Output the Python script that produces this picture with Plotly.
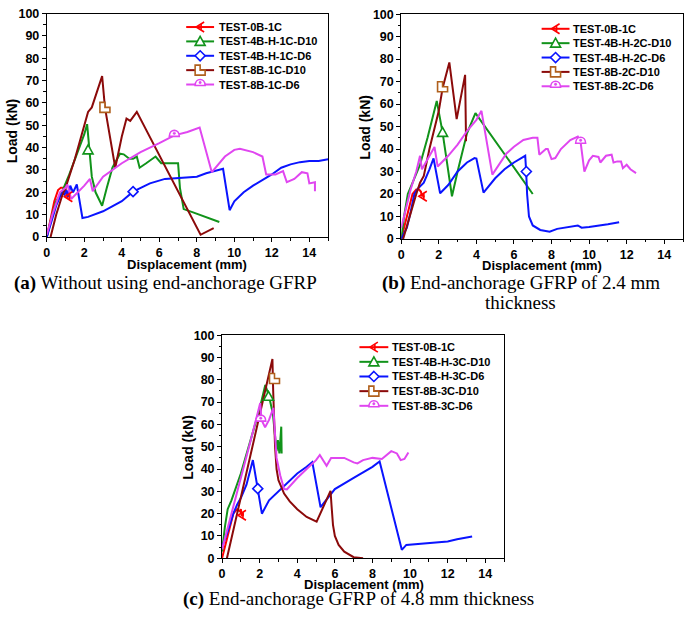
import plotly.graph_objects as go

W, H = 685, 622

# ---------------- Panel (a) data ----------------
A_NAMES = ["TEST-0B-1C", "TEST-4B-H-1C-D10", "TEST-4B-H-1C-D6", "TEST-8B-1C-D10", "TEST-8B-1C-D6"]
A_0B_X = [0, 0.2, 0.4, 0.6, 0.75, 0.9, 1.0, 1.05, 1.1, 1.15, 1.2]
A_0B_Y = [0, 8, 16, 21, 22, 22, 21.5, 20, 17.5, 19, 18]
A_4D10_X = [0, 0.2, 0.5, 0.8, 1.2, 1.6, 2.0, 2.15, 2.25, 2.4, 2.6, 2.95, 3.2, 3.5, 3.9, 4.1, 4.4, 4.6, 4.8, 4.95, 5.3, 5.8, 6.1, 6.5, 7.0, 7.1, 7.3, 7.8, 8.5, 9.2]
A_4D10_Y = [0, 7, 16, 20, 28, 37, 46, 50.5, 40, 27, 20, 14, 22, 31, 37.3, 37, 35, 35, 36, 31, 33, 36, 33, 33, 33, 22, 12.5, 11, 9, 6.7]
A_4D6_X = [0, 0.2, 0.5, 0.7, 0.85, 0.95, 1.05, 1.15, 1.25, 1.4, 1.6, 1.9, 2.2, 3.0, 4.0, 4.6, 5.5, 6.3, 7.0, 8.0, 8.5, 9.4, 9.75, 10.0, 10.5, 11.0, 12.0, 12.5, 13.0, 13.5, 14.0, 14.5, 15.0]
A_4D6_Y = [0, 6, 14, 18, 20, 19, 21, 18, 23, 20, 23.5, 8.5, 9, 11.5, 16, 20.3, 24, 26, 26.5, 27, 28.5, 30.5, 12, 16, 20, 23, 28, 31, 32.5, 33.5, 34, 34, 34.8]
A_8D10_X = [0.2, 0.5, 0.8, 1.0, 1.5, 2.0, 2.2, 2.4, 2.6, 2.95, 3.1, 3.35, 3.65, 4.0, 4.25, 4.45, 4.8, 8.2, 8.9]
A_8D10_Y = [0, 10, 18, 22, 35, 50, 56, 58, 63, 72, 58, 45, 31, 45, 53, 52, 56, 1, 4]
A_8D6_X = [0, 0.3, 0.7, 1.0, 1.1, 1.3, 2.0, 2.3, 2.45, 3.0, 4.0, 5.0, 6.0, 6.8, 7.5, 8.15, 8.8, 9.5, 10.0, 10.3, 11.0, 11.5, 11.7, 12.2, 12.6, 12.8, 13.2, 13.6, 13.9, 14.0, 14.3, 14.3]
A_8D6_Y = [1, 10, 20, 22, 23.5, 17, 23, 26, 20.5, 27, 33, 38, 42, 45.5, 47, 49, 29, 36, 39, 39.5, 38, 36, 28, 28, 29.5, 24.5, 26, 29, 28.5, 24, 24.5, 20.5]
A_MARK_X = [1.15, 2.2, 4.6, 3.1, 6.8]
A_MARK_Y = [18, 39, 20.3, 58, 45.5]

# ---------------- Panel (b) data ----------------
B_NAMES = ["TEST-0B-1C", "TEST-4B-H-2C-D10", "TEST-4B-H-2C-D6", "TEST-8B-2C-D10", "TEST-8B-2C-D6"]
B_0B_X = [0, 0.2, 0.4, 0.6, 0.8, 0.95, 1.05, 1.1, 1.15, 1.2]
B_0B_Y = [0, 7, 14, 20, 22, 22, 21, 19, 20, 18.5]
B_4D10_X = [0, 0.15, 0.35, 0.6, 1.0, 1.4, 1.89, 2.2, 2.7, 3.0, 3.5, 3.95, 7.0]
B_4D10_Y = [0, 10, 20, 25, 33, 45, 61.4, 47.4, 19, 30, 47, 56, 20]
B_4D6_X = [0, 0.3, 0.5, 0.7, 0.9, 1.2, 1.5, 1.72, 2.07, 2.5, 3.0, 3.5, 3.9, 4.0, 4.38, 5.0, 5.5, 6.0, 6.5, 6.6, 6.65, 6.7, 6.8, 7.0, 7.4, 7.9, 8.3, 8.8, 9.4, 9.6, 10.0, 11.0, 11.6]
B_4D6_Y = [0, 5, 12, 20, 22.5, 25, 31, 35.8, 20.3, 24, 30, 34, 36, 35.8, 20.6, 27, 31, 34, 36.5, 37, 30, 20, 10, 6, 4, 3.2, 4.5, 5.2, 6, 5, 5.3, 6.5, 7.4]
B_8D10_X = [0.1, 0.5, 0.8, 1.0, 1.2, 1.5, 2.0, 2.2, 2.56, 2.95, 3.4, 3.45]
B_8D10_Y = [0, 12, 20, 25, 28, 40, 57, 67, 78.5, 53.3, 73, 43.5]
B_8D6_X = [0, 0.3, 0.5, 0.8, 1.0, 1.1, 1.5, 1.77, 1.94, 2.5, 3.0, 3.5, 4.0, 4.27, 4.85, 5.2, 5.6, 6.0, 6.5, 7.0, 7.25, 7.35, 7.7, 7.8, 8.0, 8.2, 8.5, 9.0, 9.4, 9.55, 9.75, 10.0, 10.2, 10.5, 10.6, 10.9, 11.2, 11.3, 11.5, 11.7, 11.8, 12.0, 12.2, 12.5]
B_8D6_Y = [5, 15, 22, 30, 37, 31, 37, 40.9, 32.2, 37, 42, 48, 53, 57, 28.6, 33, 38, 41, 44, 45, 45, 37.5, 40, 40, 35.5, 36, 40, 44, 45.5, 43, 30, 35, 37, 36.5, 34, 37, 37.5, 34, 34.5, 34.5, 31.5, 33, 31, 29.3]
B_MARK_X = [1.15, 2.2, 6.66, 2.2, 9.55]
B_MARK_Y = [19, 47.4, 30, 67.7, 43]

# ---------------- Panel (c) data ----------------
C_NAMES = ["TEST-0B-1C", "TEST-4B-H-3C-D10", "TEST-4B-H-3C-D6", "TEST-8B-3C-D10", "TEST-8B-3C-D6"]
C_0B_X = [0, 0.3, 0.6, 0.8, 0.95, 1.0, 1.05, 1.1, 1.12]
C_0B_Y = [0, 10, 20, 22, 21, 22, 19, 20.5, 19]
C_4D10_X = [0, 0.15, 0.3, 0.5, 1.0, 1.5, 2.0, 2.3, 2.5, 2.7, 2.9, 2.97, 3.05, 3.15, 3.17]
C_4D10_Y = [3, 14, 22, 26, 38, 52, 67, 77.7, 72.5, 65, 48, 53, 47, 59, 47]
C_4D6_X = [0, 0.3, 0.6, 0.8, 1.0, 1.3, 1.64, 1.9, 2.12, 2.5, 3.0, 3.5, 4.0, 4.5, 4.8, 5.24, 5.7, 6.0, 7.0, 8.0, 8.38, 9.56, 9.8, 10.5, 11.0, 12.0, 12.5, 13.0, 13.3]
C_4D6_Y = [5, 12, 20, 24, 27, 33, 44, 31.2, 20, 26, 30, 34, 38, 41, 43.1, 22.9, 28, 31, 36, 41, 43.4, 3.8, 6, 6.5, 7, 7.5, 8.5, 9.5, 9.8]
C_8D10_X = [0.26, 0.8, 1.4, 2.0, 2.4, 2.68, 2.72, 2.76, 2.82, 2.9, 3.0, 3.3, 3.6, 4.0, 4.5, 5.03, 5.77, 5.82, 5.9, 6.0, 6.2, 6.5, 7.0, 7.5]
C_8D10_Y = [0, 20, 42, 64, 80, 89.3, 75, 62, 50, 40, 35, 29, 25.5, 22, 18.5, 16.4, 30.2, 24, 15, 10, 6, 3, 0.5, 0]
C_8D6_X = [0, 0.5, 1.0, 1.5, 2.03, 2.1, 2.29, 2.5, 2.73, 2.9, 3.1, 3.3, 3.45, 4.0, 4.5, 5.0, 5.2, 5.56, 5.8, 6.5, 7.0, 7.2, 7.5, 8.0, 8.5, 9.0, 9.3, 9.5, 9.7, 9.91]
C_8D6_Y = [4, 20, 35, 52, 69.6, 62, 58.7, 62, 67.4, 45, 37, 31, 30.9, 36, 40, 44, 46.3, 41.5, 45, 45, 43, 42.5, 44, 45, 44.5, 48, 47, 44, 44.5, 47.4]
C_MARK_X = [1.06, 2.47, 1.9, 2.79, 2.06]
C_MARK_Y = [19.3, 72.6, 31.2, 80.6, 61.9]

# ---------------- axes / ticks ----------------
X_RANGE = [0, 15]
Y_RANGE = [0, 100]
X_TICKS = [0, 2, 4, 6, 8, 10, 12, 14]
Y_TICKS = [0, 10, 20, 30, 40, 50, 60, 70, 80, 90, 100]

LINE_COLORS = ["#ff0000", "#11931a", "#0a14ff", "#8b0a0a", "#e046f0"]
MARK_COLORS = ["#ff0000", "#11931a", "#0a14ff", "#b0601c", "#e046f0"]

SANS = "Liberation Sans, Arial, sans-serif"
SERIF = "Liberation Serif, Times New Roman, serif"

# marker glyphs (pixel offsets, y up)
GLYPHS = [
    "M 4,5 L -4,0 L 4,-5 M 1,3.5 L 1,-3.5",
    "M 0,5 L 5,-4 L -5,-4 Z",
    "M 0,5 L 5,0 L 0,-5 L -5,0 Z",
    "M -5,5 L 0,5 L 0,0 L 5,0 L 5,-5 L -5,-5 Z",
    "M -5,-1 C -5,7 5,7 5,-1 Z",
]
GLYPH_FILL = ["rgba(0,0,0,0)", "white", "white", "white", "white"]


def glyph_shapes(i, xref, yref, xa, ya):
    out = [dict(type="path", xref=xref, yref=yref, xsizemode="pixel", ysizemode="pixel",
                xanchor=xa, yanchor=ya, path=GLYPHS[i], fillcolor=GLYPH_FILL[i],
                line=dict(color=MARK_COLORS[i], width=1.6))]
    if i == 4:
        out.append(dict(type="circle", xref=xref, yref=yref, xsizemode="pixel", ysizemode="pixel",
                        xanchor=xa, yanchor=ya, x0=-1.2, x1=1.2, y0=0.8, y1=3.2,
                        fillcolor=MARK_COLORS[i], line=dict(color=MARK_COLORS[i], width=0.5)))
    return out


fig = go.Figure()
shapes = []
ann = []

panels = [
    ("x", "y", A_NAMES,
     [(A_0B_X, A_0B_Y), (A_4D10_X, A_4D10_Y), (A_4D6_X, A_4D6_Y), (A_8D10_X, A_8D10_Y), (A_8D6_X, A_8D6_Y)],
     A_MARK_X, A_MARK_Y),
    ("x2", "y2", B_NAMES,
     [(B_0B_X, B_0B_Y), (B_4D10_X, B_4D10_Y), (B_4D6_X, B_4D6_Y), (B_8D10_X, B_8D10_Y), (B_8D6_X, B_8D6_Y)],
     B_MARK_X, B_MARK_Y),
    ("x3", "y3", C_NAMES,
     [(C_0B_X, C_0B_Y), (C_4D10_X, C_4D10_Y), (C_4D6_X, C_4D6_Y), (C_8D10_X, C_8D10_Y), (C_8D6_X, C_8D6_Y)],
     C_MARK_X, C_MARK_Y),
]

for xa, ya, names, series, mx, my in panels:
    for i, (xs, ys) in enumerate(series):
        fig.add_trace(go.Scatter(x=xs, y=ys, mode="lines", xaxis=xa, yaxis=ya, name=names[i],
                                 line=dict(color=LINE_COLORS[i], width=2), showlegend=False,
                                 hoverinfo="skip"))
        shapes += glyph_shapes(i, xa, ya, mx[i], my[i])

# domains in pixels (left, right, top, bottom)
DOMS = [(44, 326.5, 6.7, 235.3), (400, 683, 7.3, 237.3), (220, 503.3, 335.7, 564)]

tickfont = dict(family=SANS, size=12.5, color="black", weight="bold")
layout = dict(width=W, height=H, margin=dict(l=0, r=0, t=0, b=0),
              paper_bgcolor="white", plot_bgcolor="white", showlegend=False)

for k, (l, r, t, b) in enumerate(DOMS):
    n = "" if k == 0 else str(k + 1)
    xd = [l / W, r / W]
    yd = [1 - b / H, 1 - t / H]
    layout["xaxis" + n] = dict(domain=xd, anchor="y" + n, range=X_RANGE, tickvals=X_TICKS,
                               ticks="outside", ticklen=4, tickwidth=1, tickcolor="black",
                               minor=dict(ticks="outside", ticklen=2.5, dtick=1, tickcolor="black"),
                               showline=True, linecolor="black", linewidth=1, mirror=True,
                               showgrid=False, zeroline=False, tickfont=tickfont, fixedrange=True)
    layout["yaxis" + n] = dict(domain=yd, anchor="x" + n, range=Y_RANGE, tickvals=Y_TICKS,
                               ticks="outside", ticklen=4, tickwidth=1, tickcolor="black",
                               minor=dict(ticks="outside", ticklen=2.5, dtick=5, tickcolor="black"),
                               showline=True, linecolor="black", linewidth=1, mirror=True,
                               showgrid=False, zeroline=False, tickfont=tickfont, fixedrange=True)
    tn = str(k + 4)
    layout["xaxis" + tn] = dict(overlaying="x" + n, anchor="y" + n, side="top", range=X_RANGE,
                                tickvals=X_TICKS, ticks="inside", ticklen=4, tickcolor="black",
                                minor=dict(ticks="inside", ticklen=2.5, dtick=1, tickcolor="black"),
                                showticklabels=False, showline=False, showgrid=False, zeroline=False)
    layout["yaxis" + tn] = dict(overlaying="y" + n, anchor="x" + n, side="right", range=Y_RANGE,
                                tickvals=Y_TICKS, ticks="inside", ticklen=4, tickcolor="black",
                                minor=dict(ticks="inside", ticklen=2.5, dtick=5, tickcolor="black"),
                                showticklabels=False, showline=False, showgrid=False, zeroline=False)

# manual legends: (line x0, line x1, text x, first item y, step) in pixels
LEGS = [(184, 212, 215, 20.5, 14.7), (541, 569, 571, 22.3, 14.7), (358, 387, 389, 348, 15.0)]
for (x0, x1, tx, y0, st), (_, _, names, _, _, _) in zip(LEGS, panels):
    for i, name in enumerate(names):
        yy = y0 + i * st
        shapes.append(dict(type="line", xref="paper", yref="paper", x0=x0 / W, x1=x1 / W,
                           y0=1 - yy / H, y1=1 - yy / H, line=dict(color=LINE_COLORS[i], width=2)))
        shapes += glyph_shapes(i, "paper", "paper", (x0 + x1) / 2 / W, 1 - yy / H)
        ann.append(dict(x=tx / W, y=1 - yy / H, xref="paper", yref="paper", text=name,
                        showarrow=False, xanchor="left", yanchor="middle",
                        font=dict(family=SANS, size=11, color="black", weight="bold")))

YT = [(8.5, 126.7), (362.7, 123.3), (185, 450.7)]
XT = [(185, 263), (541.3, 264), (362.5, 591)]
for (x, y) in YT:
    ann.append(dict(x=x / W, y=1 - y / H, xref="paper", yref="paper", text="Load (kN)", textangle=-90,
                    showarrow=False, xanchor="center", yanchor="middle",
                    font=dict(family=SANS, size=14, color="black", weight="bold")))
for (x, y) in XT:
    ann.append(dict(x=x / W, y=1 - y / H, xref="paper", yref="paper", text="Displacement (mm)",
                    showarrow=False, xanchor="center", yanchor="middle", borderpad=0,
                    font=dict(family=SANS, size=13, color="black", weight="bold")))
CAPS = [("<b>(a)</b> Without using end-anchorage GFRP", 163, 282.5),
        ("<b>(b)</b> End-anchorage GFRP of 2.4 mm", 520, 282.5),
        ("thickness", 520, 302.5),
        ("<b>(c)</b> End-anchorage GFRP of 4.8 mm thickness", 357, 606)]
for (t, x, y) in CAPS:
    ann.append(dict(x=x / W, y=1 - y / H, xref="paper", yref="paper", text=t, showarrow=False,
                    xanchor="center", yanchor="middle",
                    font=dict(family=SERIF, size=19, color="black")))
layout["annotations"] = ann
layout["shapes"] = shapes

fig.update_layout(**layout)
fig.write_html("out.html", config={"displayModeBar": False},
               post_script="document.body.style.margin='0px';")
